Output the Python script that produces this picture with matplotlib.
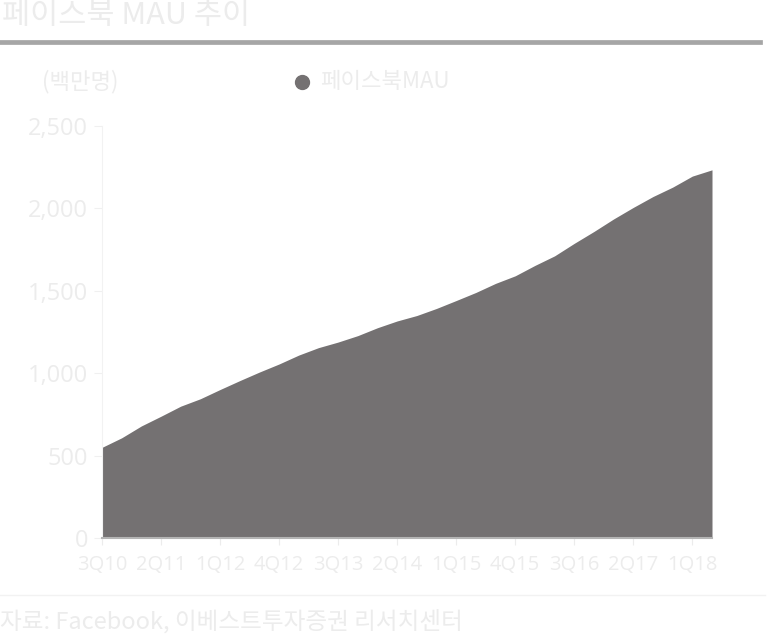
import matplotlib
matplotlib.use("Agg")
import matplotlib.pyplot as plt
from matplotlib.lines import Line2D

quarters = ["3Q10", "4Q10", "1Q11", "2Q11", "3Q11", "4Q11", "1Q12", "2Q12",
            "3Q12", "4Q12", "1Q13", "2Q13", "3Q13", "4Q13", "1Q14", "2Q14",
            "3Q14", "4Q14", "1Q15", "2Q15", "3Q15", "4Q15", "1Q16", "2Q16",
            "3Q16", "4Q16", "1Q17", "2Q17", "3Q17", "4Q17", "1Q18", "2Q18"]
mau = [550, 608, 680, 739, 800, 845, 901, 955,
       1007, 1056, 1110, 1155, 1189, 1228, 1276, 1317,
       1350, 1393, 1441, 1490, 1545, 1591, 1654, 1712,
       1788, 1860, 1936, 2006, 2072, 2129, 2196, 2234]
y_ticks = [0, 500, 1000, 1500, 2000, 2500]
y_labels = ["0", "500", "1,000", "1,500", "2,000", "2,500"]

W, H = 770, 637
fig = plt.figure(figsize=(W / 100, H / 100), dpi=100)

def fx(px):
    return px / W

def fy(py):
    return 1 - py / H

TXT = "#ececec"
FILL = "#747172"
KR = ["Noto Sans CJK KR", "DejaVu Sans"]

ax = fig.add_axes([fx(102), fy(538), fx(712) - fx(102), fy(126) - fy(538)])
x = list(range(len(quarters)))
ax.fill_between(x, 0, mau, color=FILL, linewidth=0)
ax.set_xlim(0, len(quarters) - 1)
ax.set_ylim(0, 2500)

ax.set_xticks(x[::3])
ax.set_xticklabels(quarters[::3], fontfamily="Open Sans", fontsize=14.5, color=TXT)
ax.set_yticks(y_ticks)
ax.set_yticklabels(y_labels, fontfamily="Open Sans", fontsize=17, color=TXT)
ax.tick_params(axis="x", length=5, color="#ececec", pad=7)
ax.tick_params(axis="y", length=6, color="#f0f0f0", pad=4)
for s in ["top", "right"]:
    ax.spines[s].set_visible(False)
ax.spines["left"].set_color("#f2f2f2")
ax.spines["bottom"].set_color("#b4b4b4")
ax.spines["bottom"].set_linewidth(1.5)

# title and rules
fig.text(fx(2), fy(16), "페이스북 MAU 추이", fontfamily=KR, fontsize=22,
         color=TXT, va="center", ha="left")
fig.add_artist(Line2D([fx(0), fx(760)], [fy(41.5), fy(41.5)], color="#a6a6a6",
                      linewidth=3.4, transform=fig.transFigure))
fig.add_artist(Line2D([fx(0), fx(765)], [fy(595), fy(595)], color="#f2f2f2",
                      linewidth=1, transform=fig.transFigure))

# unit and legend
fig.text(fx(42), fy(82), "(백만명)", fontfamily=KR, fontsize=16, color=TXT,
         va="center", ha="left")
fig.add_artist(Line2D([fx(302)], [fy(82)], marker="o", markersize=10,
                      color=FILL, linestyle="none", transform=fig.transFigure))
fig.text(fx(320), fy(82), "페이스북MAU", fontfamily=KR, fontsize=16, color=TXT,
         va="center", ha="left")

# footer
fig.text(fx(0), fy(621), "자료: Facebook, 이베스트투자증권 리서치센터",
         fontfamily=KR, fontsize=17, color=TXT, va="center", ha="left")

fig.savefig("out.png", dpi=100)
